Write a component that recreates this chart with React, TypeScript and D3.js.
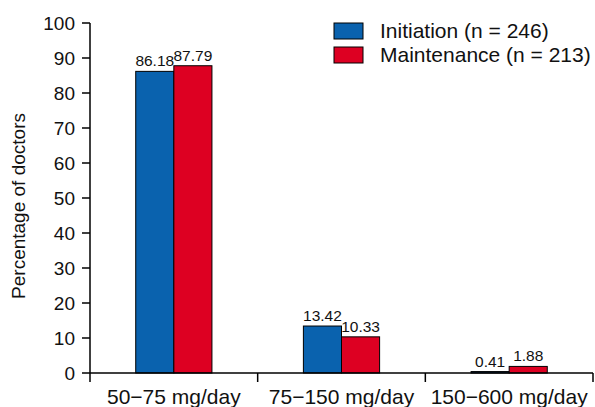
import React from "react";
import * as d3 from "d3";

const categories = ["50\u221275 mg/day", "75\u2212150 mg/day", "150\u2212600 mg/day"];
const seriesNames = ["Initiation (n = 246)", "Maintenance (n = 213)"];
const seriesColors = ["#0a62ae", "#dd0022"];
const initiation = [86.18, 13.42, 0.41];
const maintenance = [87.79, 10.33, 1.88];
const yTicks = [0, 10, 20, 30, 40, 50, 60, 70, 80, 90, 100];

const W = 595;
const H = 407;
const font = "Liberation Sans, Arial, Helvetica, sans-serif";

export default function App() {
  const x = d3.scaleBand<string>().domain(categories).range([90, 593]).padding(0);
  const inner = d3
    .scaleBand<number>()
    .domain([0, 1])
    .range([0, x.bandwidth()])
    .paddingInner(0)
    .paddingOuter(1.2);
  const y = d3.scaleLinear().domain([0, 100]).range([373, 23]);
  const series = [initiation, maintenance];
  const fmt = d3.format(".2f");

  const bounds = [...categories.map((c) => x(c) as number), 593];

  return (
    <div style={{ position: "fixed", left: 0, top: 0 }}>
      <svg width={W} height={H} style={{ display: "block", fontFamily: font }}>
        <rect width={W} height={H} fill="#fff" />

        {/* bars */}
        {categories.map((c, i) => (
          <g key={c} transform={`translate(${x(c)},0)`}>
            {series.map((s, k) => {
              const bx = inner(k) as number;
              const bw = inner.bandwidth();
              return (
                <g key={k}>
                  <rect
                    x={bx}
                    y={y(s[i])}
                    width={bw}
                    height={y(0) - y(s[i])}
                    fill={seriesColors[k]}
                    stroke="#000"
                    strokeWidth={1}
                  />
                  <text
                    x={bx + bw / 2}
                    y={y(s[i]) - 5}
                    textAnchor="middle"
                    fontSize={15.5}
                    fill="#111"
                  >
                    {fmt(s[i])}
                  </text>
                </g>
              );
            })}
          </g>
        ))}

        {/* y axis */}
        <line x1={90} x2={90} y1={y(100)} y2={y(0)} stroke="#000" strokeWidth={1.5} />
        {yTicks.map((t) => (
          <g key={t} transform={`translate(0,${y(t)})`}>
            <line x1={82} x2={90} stroke="#000" strokeWidth={1.5} />
            <text x={75} dy="0.36em" textAnchor="end" fontSize={19} fill="#111">
              {t}
            </text>
          </g>
        ))}
        <text
          transform={`translate(25,${(y(0) + y(100)) / 2 + 8}) rotate(-90)`}
          textAnchor="middle"
          fontSize={19}
          fill="#111"
        >
          Percentage of doctors
        </text>

        {/* x axis */}
        <line x1={90} x2={593} y1={y(0)} y2={y(0)} stroke="#000" strokeWidth={1.5} />
        {bounds.map((b, i) => (
          <line key={i} x1={b} x2={b} y1={y(0)} y2={y(0) + 9} stroke="#000" strokeWidth={1.5} />
        ))}
        {categories.map((c) => (
          <text
            key={c}
            x={(x(c) as number) + x.bandwidth() / 2}
            y={404}
            textAnchor="middle"
            fontSize={21}
            fill="#111"
          >
            {c}
          </text>
        ))}

        {/* legend */}
        {seriesNames.map((n, k) => (
          <g key={n} transform={`translate(334,${23 + k * 24})`}>
            <rect width={29} height={16} fill={seriesColors[k]} stroke="#000" strokeWidth={1} />
            <text x={46} y={15} fontSize={21} fill="#111">
              {n}
            </text>
          </g>
        ))}
      </svg>
    </div>
  );
}
